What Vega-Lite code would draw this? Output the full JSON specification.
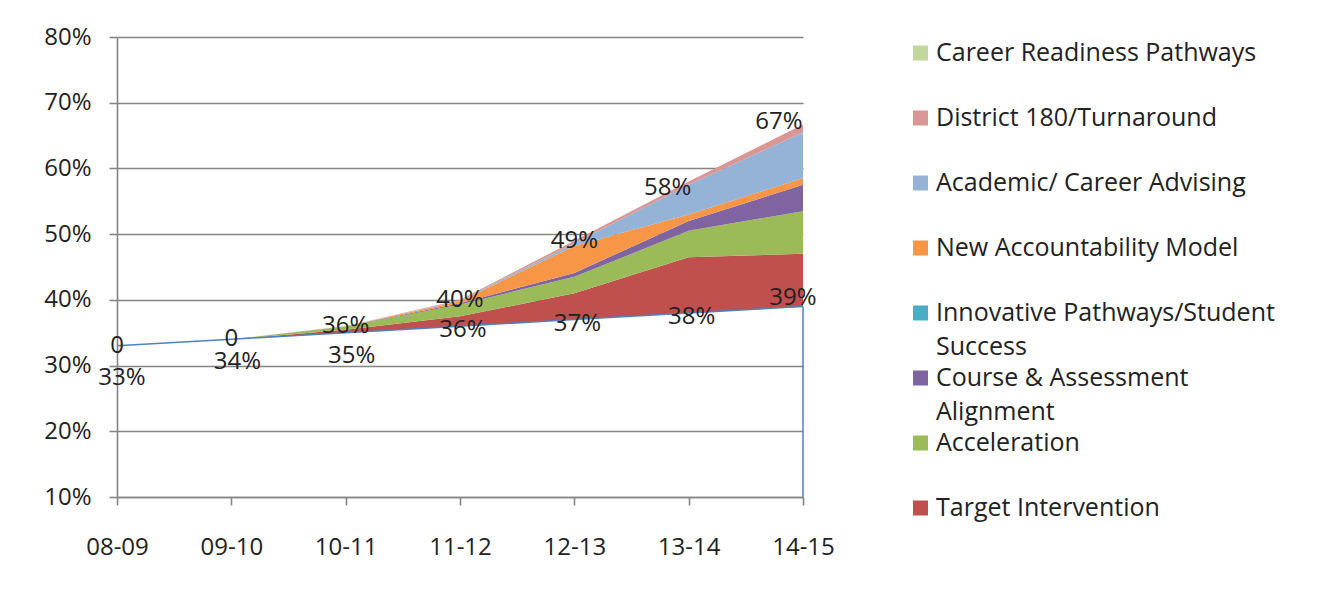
{
  "$schema": "https://vega.github.io/schema/vega-lite/v6.json",
  "width": 686,
  "height": 460,
  "autosize": {"type": "none"},
  "padding": {"left": 117, "top": 37, "right": 517, "bottom": 95},
  "background": "white",
  "config": {
    "view": {"stroke": null},
    "font": "Open Sans",
    "text": {"font": "Open Sans", "fontSize": 24, "color": "#222222"}
  },
  "datasets": {
    "areas": [
      {"yr": "08-09", "series": "Baseline", "k": 0, "v": 33},
      {"yr": "08-09", "series": "Target Intervention", "k": 1, "v": 0},
      {"yr": "08-09", "series": "Acceleration", "k": 2, "v": 0},
      {"yr": "08-09", "series": "Course & Assessment Alignment", "k": 3, "v": 0},
      {"yr": "08-09", "series": "Innovative Pathways/Student Success", "k": 4, "v": 0},
      {"yr": "08-09", "series": "New Accountability Model", "k": 5, "v": 0},
      {"yr": "08-09", "series": "Academic/ Career Advising", "k": 6, "v": 0},
      {"yr": "08-09", "series": "District 180/Turnaround", "k": 7, "v": 0},
      {"yr": "08-09", "series": "Career Readiness Pathways", "k": 8, "v": 0},
      {"yr": "09-10", "series": "Baseline", "k": 0, "v": 34},
      {"yr": "09-10", "series": "Target Intervention", "k": 1, "v": 0},
      {"yr": "09-10", "series": "Acceleration", "k": 2, "v": 0},
      {"yr": "09-10", "series": "Course & Assessment Alignment", "k": 3, "v": 0},
      {"yr": "09-10", "series": "Innovative Pathways/Student Success", "k": 4, "v": 0},
      {"yr": "09-10", "series": "New Accountability Model", "k": 5, "v": 0},
      {"yr": "09-10", "series": "Academic/ Career Advising", "k": 6, "v": 0},
      {"yr": "09-10", "series": "District 180/Turnaround", "k": 7, "v": 0},
      {"yr": "09-10", "series": "Career Readiness Pathways", "k": 8, "v": 0},
      {"yr": "10-11", "series": "Baseline", "k": 0, "v": 35},
      {"yr": "10-11", "series": "Target Intervention", "k": 1, "v": 0.45},
      {"yr": "10-11", "series": "Acceleration", "k": 2, "v": 0.5},
      {"yr": "10-11", "series": "Course & Assessment Alignment", "k": 3, "v": 0.02},
      {"yr": "10-11", "series": "Innovative Pathways/Student Success", "k": 4, "v": 0},
      {"yr": "10-11", "series": "New Accountability Model", "k": 5, "v": 0.01},
      {"yr": "10-11", "series": "Academic/ Career Advising", "k": 6, "v": 0.01},
      {"yr": "10-11", "series": "District 180/Turnaround", "k": 7, "v": 0.01},
      {"yr": "10-11", "series": "Career Readiness Pathways", "k": 8, "v": 0},
      {"yr": "11-12", "series": "Baseline", "k": 0, "v": 36},
      {"yr": "11-12", "series": "Target Intervention", "k": 1, "v": 1.5},
      {"yr": "11-12", "series": "Acceleration", "k": 2, "v": 1.8},
      {"yr": "11-12", "series": "Course & Assessment Alignment", "k": 3, "v": 0.2},
      {"yr": "11-12", "series": "Innovative Pathways/Student Success", "k": 4, "v": 0},
      {"yr": "11-12", "series": "New Accountability Model", "k": 5, "v": 0.3},
      {"yr": "11-12", "series": "Academic/ Career Advising", "k": 6, "v": 0.1},
      {"yr": "11-12", "series": "District 180/Turnaround", "k": 7, "v": 0.1},
      {"yr": "11-12", "series": "Career Readiness Pathways", "k": 8, "v": 0},
      {"yr": "12-13", "series": "Baseline", "k": 0, "v": 37},
      {"yr": "12-13", "series": "Target Intervention", "k": 1, "v": 4},
      {"yr": "12-13", "series": "Acceleration", "k": 2, "v": 2.5},
      {"yr": "12-13", "series": "Course & Assessment Alignment", "k": 3, "v": 0.6},
      {"yr": "12-13", "series": "Innovative Pathways/Student Success", "k": 4, "v": 0},
      {"yr": "12-13", "series": "New Accountability Model", "k": 5, "v": 4.1},
      {"yr": "12-13", "series": "Academic/ Career Advising", "k": 6, "v": 0.4},
      {"yr": "12-13", "series": "District 180/Turnaround", "k": 7, "v": 0.4},
      {"yr": "12-13", "series": "Career Readiness Pathways", "k": 8, "v": 0},
      {"yr": "13-14", "series": "Baseline", "k": 0, "v": 38},
      {"yr": "13-14", "series": "Target Intervention", "k": 1, "v": 8.5},
      {"yr": "13-14", "series": "Acceleration", "k": 2, "v": 4},
      {"yr": "13-14", "series": "Course & Assessment Alignment", "k": 3, "v": 1.5},
      {"yr": "13-14", "series": "Innovative Pathways/Student Success", "k": 4, "v": 0},
      {"yr": "13-14", "series": "New Accountability Model", "k": 5, "v": 1},
      {"yr": "13-14", "series": "Academic/ Career Advising", "k": 6, "v": 4.5},
      {"yr": "13-14", "series": "District 180/Turnaround", "k": 7, "v": 0.5},
      {"yr": "13-14", "series": "Career Readiness Pathways", "k": 8, "v": 0},
      {"yr": "14-15", "series": "Baseline", "k": 0, "v": 39},
      {"yr": "14-15", "series": "Target Intervention", "k": 1, "v": 8},
      {"yr": "14-15", "series": "Acceleration", "k": 2, "v": 6.5},
      {"yr": "14-15", "series": "Course & Assessment Alignment", "k": 3, "v": 4},
      {"yr": "14-15", "series": "Innovative Pathways/Student Success", "k": 4, "v": 0},
      {"yr": "14-15", "series": "New Accountability Model", "k": 5, "v": 1},
      {"yr": "14-15", "series": "Academic/ Career Advising", "k": 6, "v": 7},
      {"yr": "14-15", "series": "District 180/Turnaround", "k": 7, "v": 1.2},
      {"yr": "14-15", "series": "Career Readiness Pathways", "k": 8, "v": 0}
    ],
    "labels": [
      {"yr": "08-09", "base": 33, "baseLabel": "33%", "total": 33, "totalLabel": "0"},
      {"yr": "09-10", "base": 34, "baseLabel": "34%", "total": 34, "totalLabel": "0"},
      {"yr": "10-11", "base": 35, "baseLabel": "35%", "total": 36, "totalLabel": "36%"},
      {"yr": "11-12", "base": 36, "baseLabel": "36%", "total": 40, "totalLabel": "40%"},
      {"yr": "12-13", "base": 37, "baseLabel": "37%", "total": 49, "totalLabel": "49%"},
      {"yr": "13-14", "base": 38, "baseLabel": "38%", "total": 58, "totalLabel": "58%"},
      {"yr": "14-15", "base": 39, "baseLabel": "39%", "total": 67, "totalLabel": "67%"}
    ]
  },
  "layer": [
    {
      "data": {"name": "areas"},
      "mark": {"type": "area", "clip": true, "interpolate": "linear"},
      "encoding": {
        "x": {
          "field": "yr", "type": "ordinal",
          "scale": {"type": "point", "padding": 0},
          "axis": {
            "title": null, "labelAngle": 0, "grid": false,
            "domainColor": "#858585", "domainWidth": 1.6,
            "tickColor": "#858585", "tickWidth": 1.6, "tickSize": 8,
            "labelPadding": 30, "labelFontSize": 24, "labelFont": "Open Sans", "labelColor": "#222222"
          }
        },
        "y": {
          "field": "v", "type": "quantitative", "stack": "zero",
          "scale": {"domain": [10, 80], "nice": false, "zero": false},
          "axis": {
            "title": null, "values": [10, 20, 30, 40, 50, 60, 70, 80],
            "labelExpr": "datum.value + '%'",
            "grid": true, "gridColor": "#858585", "gridWidth": 1.6,
            "domainColor": "#858585", "domainWidth": 1.6,
            "tickColor": "#858585", "tickWidth": 1.6, "tickSize": 8,
            "labelPadding": 18, "labelFontSize": 24, "labelFont": "Open Sans", "labelColor": "#222222"
          }
        },
        "color": {
          "field": "series", "type": "nominal",
          "scale": {
            "domain": ["Career Readiness Pathways", "District 180/Turnaround", "Academic/ Career Advising", "New Accountability Model", "Innovative Pathways/Student Success", "Course & Assessment Alignment", "Acceleration", "Target Intervention", "Baseline"],
            "range": ["#c3d69b", "#d99694", "#95b3d7", "#f79646", "#4bacc6", "#8064a2", "#9bbb59", "#c0504d", "rgba(255,255,255,0)"]
          },
          "legend": {
            "title": null,
            "values": ["Career Readiness Pathways", "District 180/Turnaround", "Academic/ Career Advising", "New Accountability Model", "Innovative Pathways/Student Success", "Course & Assessment Alignment", "Acceleration", "Target Intervention"],
            "orient": "none", "legendX": 791, "legendY": 4,
            "padding": 0, "rowPadding": 0, "clipHeight": 65,
            "symbolType": "square", "symbolSize": 225, "symbolStrokeWidth": 0, "symbolOpacity": 1,
            "labelFont": "Open Sans", "labelFontSize": 25, "labelColor": "#222222",
            "labelOffset": 3, "labelLimit": 500, "labelBaseline": "top",
            "labelExpr": "datum.label == 'Innovative Pathways/Student Success' ? ['Innovative Pathways/Student', 'Success'] : datum.label == 'Course & Assessment Alignment' ? ['Course & Assessment', 'Alignment'] : datum.label",
            "encode": {
              "labels": {"update": {"y": {"value": 12}, "dy": {"value": -12}, "lineHeight": {"value": 34}}},
              "symbols": {"update": {"y": {"value": 12}}}
            }
          }
        },
        "order": {"field": "k", "type": "quantitative"}
      }
    },
    {
      "data": {"name": "labels"},
      "mark": {"type": "line", "color": "#4f81bd", "strokeWidth": 1.5},
      "encoding": {
        "x": {"field": "yr", "type": "ordinal"},
        "y": {"field": "base", "type": "quantitative"}
      }
    },
    {
      "data": {"name": "labels"},
      "transform": [{"filter": "datum.yr === '14-15'"}],
      "mark": {"type": "rule", "color": "#4f81bd", "strokeWidth": 1.5},
      "encoding": {
        "x": {"field": "yr", "type": "ordinal"},
        "y": {"field": "base", "type": "quantitative"},
        "y2": {"datum": 10}
      }
    },
    {
      "data": {"name": "labels"},
      "transform": [{"filter": "datum.yr === '08-09'"}],
      "mark": {"type": "text", "dy": 32, "dx": 5},
      "encoding": {
        "x": {"field": "yr", "type": "ordinal"},
        "y": {"field": "base", "type": "quantitative"},
        "text": {"field": "baseLabel"}
      }
    },
    {
      "data": {"name": "labels"},
      "transform": [{"filter": "datum.yr === '09-10' || datum.yr === '10-11'"}],
      "mark": {"type": "text", "dy": 23, "dx": 6},
      "encoding": {
        "x": {"field": "yr", "type": "ordinal"},
        "y": {"field": "base", "type": "quantitative"},
        "text": {"field": "baseLabel"}
      }
    },
    {
      "data": {"name": "labels"},
      "transform": [{"filter": "datum.yr === '11-12' || datum.yr === '12-13' || datum.yr === '13-14'"}],
      "mark": {"type": "text", "dy": 4, "dx": 3},
      "encoding": {
        "x": {"field": "yr", "type": "ordinal"},
        "y": {"field": "base", "type": "quantitative"},
        "text": {"field": "baseLabel"}
      }
    },
    {
      "data": {"name": "labels"},
      "transform": [{"filter": "datum.yr === '14-15'"}],
      "mark": {"type": "text", "dy": -8, "dx": -10},
      "encoding": {
        "x": {"field": "yr", "type": "ordinal"},
        "y": {"field": "base", "type": "quantitative"},
        "text": {"field": "baseLabel"}
      }
    },
    {
      "data": {"name": "labels"},
      "transform": [{"filter": "datum.yr !== '13-14' && datum.yr !== '14-15'"}],
      "mark": {"type": "text"},
      "encoding": {
        "x": {"field": "yr", "type": "ordinal"},
        "y": {"field": "total", "type": "quantitative"},
        "text": {"field": "totalLabel"}
      }
    },
    {
      "data": {"name": "labels"},
      "transform": [{"filter": "datum.yr === '13-14'"}],
      "mark": {"type": "text", "dx": -21, "dy": 6},
      "encoding": {
        "x": {"field": "yr", "type": "ordinal"},
        "y": {"field": "total", "type": "quantitative"},
        "text": {"field": "totalLabel"}
      }
    },
    {
      "data": {"name": "labels"},
      "transform": [{"filter": "datum.yr === '14-15'"}],
      "mark": {"type": "text", "dx": -24},
      "encoding": {
        "x": {"field": "yr", "type": "ordinal"},
        "y": {"field": "total", "type": "quantitative"},
        "text": {"field": "totalLabel"}
      }
    }
  ]
}
